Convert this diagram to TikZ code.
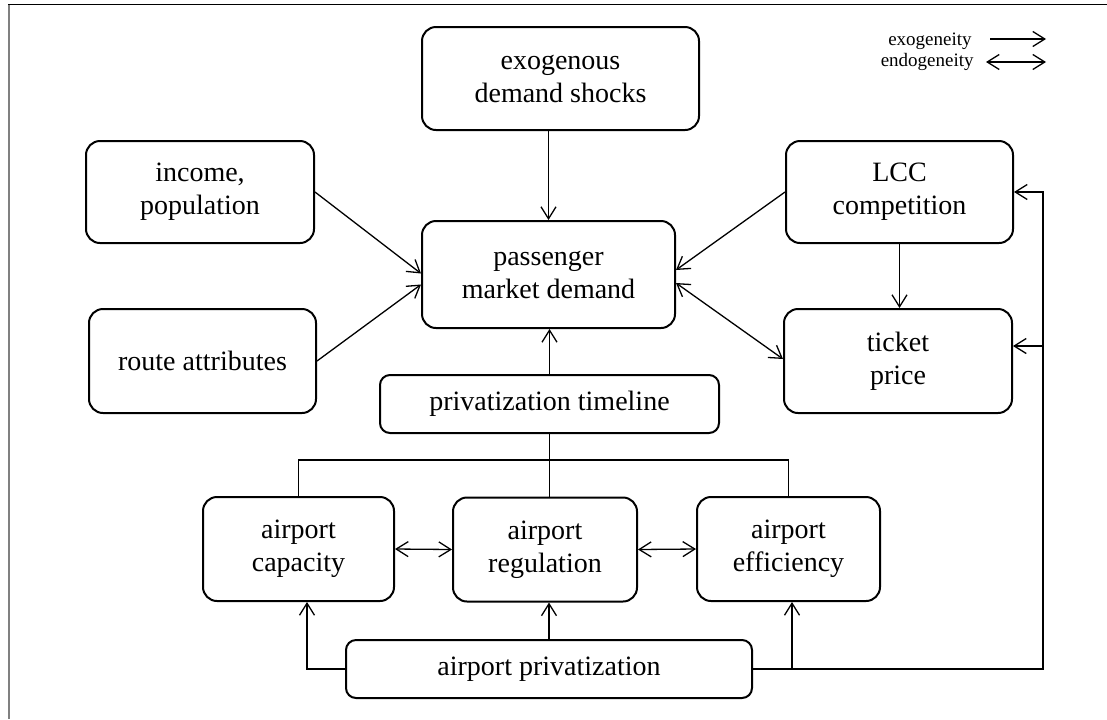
\documentclass[tikz,border=0pt]{standalone}
\usepackage{fontspec}
\setmainfont{Liberation Serif}
\usetikzlibrary{arrows.meta,positioning,calc}
\definecolor{frameGray}{HTML}{808080}
\tikzset{
  factorBox/.style={draw=black, line width=1pt, rounded corners=7pt, align=center, inner sep=0pt, font=\fontsize{14}{16.5}\selectfont},
  flatBox/.style={factorBox, rounded corners=5pt},
  causeArrow/.style={-{Straight Barb[length=6pt,width=7.5pt]}, line width=0.65pt},
  mutualArrow/.style={{Straight Barb[length=6pt,width=7.5pt]}-{Straight Barb[length=6pt,width=7.5pt]}, line width=0.65pt},
  plainLine/.style={line width=0.65pt},
  keyLabel/.style={font=\fontsize{9.5}{11}\selectfont, anchor=base east, inner sep=0pt}
}

\begin{document}
\begin{tikzpicture}[x=0.5pt,y=-0.5pt]
  \useasboundingbox (0,0) rectangle (1107,719);
  % frame edges
  \draw[frameGray, line width=1pt] (9,4) -- (9,719);
  \draw[black, line width=0.75pt] (8,4.3) -- (1107,4.3);

  % demand side
  \node[factorBox, minimum width=138.5pt, minimum height=51.5pt] (exo) at (560.5,78.5) {exogenous\\demand shocks};
  \node[factorBox, minimum width=114pt, minimum height=51pt] (income) at (200,192) {income,\\population};
  \node[factorBox, minimum width=113.5pt, minimum height=52pt] (route) at (202.5,361) {route attributes};
  \node[factorBox, minimum width=126.5pt, minimum height=53.5pt] (pmd) at (548.5,274.5) {passenger\\market demand};
  \node[factorBox, minimum width=113.5pt, minimum height=51pt] (lcc) at (899.5,192) {LCC\\competition};
  \node[factorBox, minimum width=114pt, minimum height=52pt] (ticket) at (898,361) {ticket\\price};
  \node[flatBox, minimum width=169.5pt, minimum height=29pt] (timeline) at (549.5,404) {privatization timeline};

  % airport side
  \node[factorBox, minimum width=95.5pt, minimum height=52pt] (cap) at (298.5,549) {airport\\capacity};
  \node[factorBox, minimum width=92pt, minimum height=52pt] (reg) at (545,549.5) {airport\\regulation};
  \node[factorBox, minimum width=91.5pt, minimum height=52pt] (eff) at (788.5,549) {airport\\efficiency};
  \node[flatBox, minimum width=203pt, minimum height=29pt] (priv) at (549,669) {airport privatization};

  % legend
  \node[keyLabel] (exoKey) at (972,45) {exogeneity};
  \node[keyLabel] (endoKey) at (974,66.5) {endogeneity};
  \coordinate (exoTail) at (990,39);
  \coordinate (exoHead) at (1046,39);
  \coordinate (endoTail) at (986,62);
  \coordinate (endoHead) at (1046,62);
  \draw[causeArrow] (exoTail) -- (exoHead);
  \draw[mutualArrow] (endoTail) -- (endoHead);

  % into passenger demand
  \draw[causeArrow] (pmd.north |- exo.south) -- (pmd.north);
  \draw[causeArrow] (income.east) -- ($(pmd.west)+(0,-1)$);
  \draw[causeArrow] (route.east) -- ($(pmd.west)+(0,10)$);
  \draw[causeArrow] (lcc.west) -- ($(pmd.east)+(0,-4.5)$);
  \draw[mutualArrow] ($(pmd.east)+(0,8.5)$) -- ($(ticket.west)+(0,-2)$);
  \draw[causeArrow] (lcc.south) -- (lcc.south |- ticket.north);
  \draw[causeArrow] (timeline.north) -- (timeline.north |- pmd.south);

  % timeline to airport boxes
  \coordinate (bus) at ($(timeline.south)+(0,26)$);
  \draw[plainLine] (timeline.south) -- (timeline.south |- reg.north);
  \draw[plainLine] (cap.north) |- (bus) -| (eff.north);
  \draw[mutualArrow] (cap.east) -- (reg.west);
  \draw[mutualArrow] (reg.east) -- (eff.west);

  % privatization effects
  \coordinate (capIn) at ($(cap.south)+(8.5,0)$);
  \coordinate (effIn) at ($(eff.south)+(3.5,0)$);
  \draw[causeArrow] (priv.west) -| (capIn);
  \draw[causeArrow] (priv.north) -- (priv.north |- reg.south);
  \draw[causeArrow] (effIn |- priv.east) -- (effIn);
  \draw[causeArrow] (priv.east) -| ($(lcc.east)+(29,0)$) -- (lcc.east);
  \draw[causeArrow] ($(ticket.east)+(30,-15)$) -- ($(ticket.east)+(0,-15)$);
\end{tikzpicture}
\end{document}
